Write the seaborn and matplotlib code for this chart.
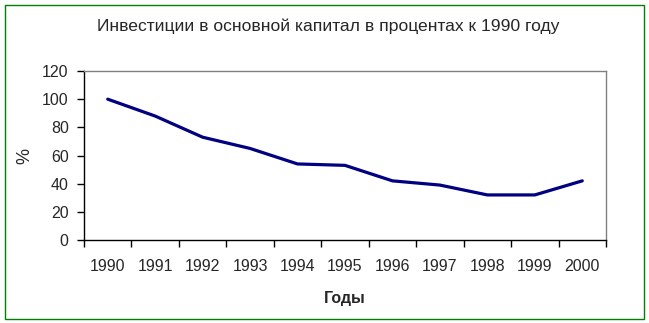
import matplotlib
matplotlib.use("Agg")
import matplotlib.pyplot as plt
import seaborn as sns
import pandas as pd
from matplotlib.patches import Rectangle
from matplotlib.ticker import FixedLocator, NullFormatter, FixedFormatter

years = [1990, 1991, 1992, 1993, 1994, 1995, 1996, 1997, 1998, 1999, 2000]
values = [100, 88, 73, 65, 54, 53, 42, 39, 32, 32, 42]
yticks = [0, 20, 40, 60, 80, 100, 120]
title = "Инвестиции в основной капитал в процентах к 1990 году"
xlabel = "Годы"
ylabel = "%"

sns.set_style("white")
plt.rcParams['font.family'] = ['Liberation Sans', 'DejaVu Sans']

df = pd.DataFrame({"year": years, "value": values})

fig = plt.figure(figsize=(6.49, 3.23), dpi=100)
ax = fig.add_axes([84/649, 83/323, (606-84)/649, (240-71)/323])

sns.lineplot(data=df, x="year", y="value", ax=ax, color="#000080", linewidth=2.3)

ax.set_xlim(years[0] - 0.5, years[-1] + 0.5)
ax.set_ylim(0, 120)
ax.set_yticks(yticks)
ax.set_yticklabels([str(v) for v in yticks], fontsize=11.5)

bounds = [y - 0.5 for y in years] + [years[-1] + 0.5]
ax.xaxis.set_major_locator(FixedLocator(bounds))
ax.xaxis.set_major_formatter(NullFormatter())
ax.xaxis.set_minor_locator(FixedLocator(years))
ax.xaxis.set_minor_formatter(FixedFormatter([str(y) for y in years]))
ax.tick_params(axis="x", which="major", direction="out", length=5, width=1, color="black", bottom=True)
ax.tick_params(axis="x", which="minor", length=0, labelsize=11.5, pad=14, bottom=True)
ax.tick_params(axis="y", direction="out", length=5, width=1, color="black", left=True, labelsize=11.5, pad=6)

for s in ["left", "bottom"]:
    ax.spines[s].set_color("black")
    ax.spines[s].set_linewidth(1)
for s in ["top", "right"]:
    ax.spines[s].set_color("#808080")
    ax.spines[s].set_linewidth(1)
ax.grid(False)

ax.set_xlabel(xlabel, fontsize=11.5, fontweight="bold")
ax.set_ylabel(ylabel, fontsize=13)
ax.xaxis.set_label_coords(0.5, (240 - 299) / 169)
ax.xaxis.label.set_va("center")
ax.yaxis.set_label_coords((25 - 84) / 522, 0.5)
ax.yaxis.label.set_va("center")

fig.text(328/649, 1 - 26/323, title, ha="center", va="center", fontsize=12.6)

fig.patches.append(Rectangle((4.5/649, 4.5/323), (644-4.5)/649, (318.5-4.5)/323,
                             transform=fig.transFigure, fill=False,
                             edgecolor="#008000", linewidth=1))

fig.savefig("out.png", dpi=100)
